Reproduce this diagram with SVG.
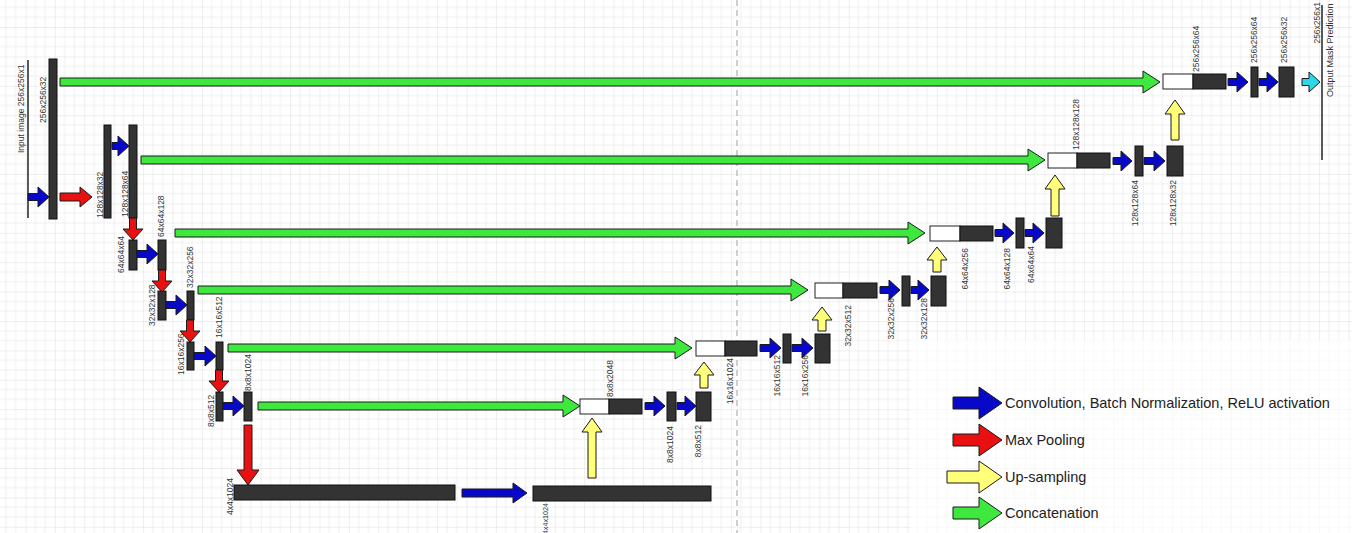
<svg xmlns="http://www.w3.org/2000/svg" width="1352" height="533" viewBox="0 0 1352 533">
<style>
.lb{font-family:"Liberation Sans",Arial,sans-serif;font-size:8.5px;fill:#333}
.lg{font-family:"Liberation Sans",Arial,sans-serif;font-size:14.5px;fill:#222}
.blk{fill:#333;stroke:#111;stroke-width:1}
.wht{fill:#fff;stroke:#222;stroke-width:1}
.ln{stroke:#222;stroke-width:1.5;fill:none}
.ar{stroke:#1a1a1a;stroke-width:1;stroke-linejoin:miter}
.b{fill:#0808c8}
.r{fill:#e81010}
.y{fill:#ffff7a}
.g{fill:#3fe83f}
.c{fill:#2ad8e8}
.e{text-anchor:end}
</style>
<defs>
<pattern id="grid" width="29.4" height="29.4" patternUnits="userSpaceOnUse" x="25.5" y="27">
<path d="M9.8,0V29.4M19.6,0V29.4M0,9.8H29.4M0,19.6H29.4" stroke="#f0f0f0" stroke-width="1"/>
<path d="M0,0V29.4M0,0H29.4" stroke="#dedede" stroke-width="1"/>
</pattern>
</defs>
<rect width="1352" height="533" fill="#fff"/>
<rect width="1352" height="533" fill="url(#grid)"/>
<rect x="910" y="340" width="442" height="193" fill="#fff" opacity="0.6"/>
<line x1="737" y1="0" x2="737" y2="533" stroke="#b0b0b0" stroke-width="1.2" stroke-dasharray="6,4"/>

<g id="input">
<line class="ln" x1="28" y1="60" x2="28" y2="218"/>
<text class="lb" transform="translate(24,153) rotate(-90)">Input image 256x256x1</text>
</g>
<g id="enc1a"><rect class="blk" x="49" y="59" width="8" height="160"/><text class="lb" transform="translate(46,123) rotate(-90)">256x256x32</text></g>
<g id="enc2a"><rect class="blk" x="104" y="125" width="7" height="93"/><text class="lb" transform="translate(103,218) rotate(-90)">128x128x32</text></g>
<g id="enc2b"><rect class="blk" x="129" y="125" width="8" height="93"/><text class="lb" transform="translate(128,217) rotate(-90)">128x128x64</text></g>
<g id="enc3a"><rect class="blk" x="129" y="240" width="8" height="30"/><text class="lb" transform="translate(124,273) rotate(-90)">64x64x64</text></g>
<g id="enc3b"><rect class="blk" x="158" y="240" width="8" height="30"/><text class="lb" transform="translate(164,237) rotate(-90)">64x64x128</text></g>
<g id="enc4a"><rect class="blk" x="158" y="291" width="8" height="29"/><text class="lb" transform="translate(155,326) rotate(-90)">32x32x128</text></g>
<g id="enc4b"><rect class="blk" x="187" y="291" width="7" height="29"/><text class="lb" transform="translate(193,288) rotate(-90)">32x32x256</text></g>
<g id="enc5a"><rect class="blk" x="187" y="342" width="7" height="28"/><text class="lb" transform="translate(184,375) rotate(-90)">16x16x256</text></g>
<g id="enc5b"><rect class="blk" x="216" y="342" width="7" height="28"/><text class="lb" transform="translate(222,338) rotate(-90)">16x16x512</text></g>
<g id="enc6a"><rect class="blk" x="216" y="392" width="7" height="29"/><text class="lb" transform="translate(214,427) rotate(-90)">8x8x512</text></g>
<g id="enc6b"><rect class="blk" x="244" y="392" width="8" height="29"/><text class="lb" transform="translate(251,391) rotate(-90)">8x8x1024</text></g>
<g id="bott1"><rect class="blk" x="234" y="485" width="221" height="15"/><text class="lb" transform="translate(233,515) rotate(-90)">4x4x1024</text></g>
<g id="bott2"><rect class="blk" x="533" y="486" width="178" height="15"/><text class="lb e" style="font-size:7.2px" transform="translate(548,503) rotate(-90)">4x4x1024</text></g>

<g id="cat6"><rect class="wht" x="580" y="399" width="29" height="15"/><rect class="blk" x="609" y="399" width="33" height="15"/><text class="lb" transform="translate(613,397) rotate(-90)">8x8x2048</text></g>
<g id="dec6a"><rect class="blk" x="667" y="392" width="9" height="29"/><text class="lb e" transform="translate(673,426) rotate(-90)">8x8x1024</text></g>
<g id="dec6b"><rect class="blk" x="696" y="392" width="15" height="29"/><text class="lb e" transform="translate(701,425) rotate(-90)">8x8x512</text></g>
<g id="cat5"><rect class="wht" x="696" y="341" width="29" height="15"/><rect class="blk" x="725" y="341" width="32" height="15"/><text class="lb e" transform="translate(733,358) rotate(-90)">16x16x1024</text></g>
<g id="dec5a"><rect class="blk" x="783" y="334" width="8" height="29"/><text class="lb e" transform="translate(780,355) rotate(-90)">16x16x512</text></g>
<g id="dec5b"><rect class="blk" x="815" y="334" width="15" height="29"/><text class="lb e" transform="translate(808,355) rotate(-90)">16x16x256</text></g>
<g id="cat4"><rect class="wht" x="815" y="283" width="28" height="15"/><rect class="blk" x="843" y="283" width="34" height="15"/><text class="lb e" transform="translate(851,305) rotate(-90)">32x32x512</text></g>
<g id="dec4a"><rect class="blk" x="902" y="276" width="8" height="30"/><text class="lb e" transform="translate(894,298) rotate(-90)">32x32x256</text></g>
<g id="dec4b"><rect class="blk" x="931" y="276" width="15" height="30"/><text class="lb e" transform="translate(927,298) rotate(-90)">32x32x128</text></g>
<g id="cat3"><rect class="wht" x="930" y="226" width="30" height="15"/><rect class="blk" x="960" y="226" width="33" height="15"/><text class="lb e" transform="translate(968,248) rotate(-90)">64x64x256</text></g>
<g id="dec3a"><rect class="blk" x="1016" y="218" width="8" height="30"/><text class="lb e" transform="translate(1010,248) rotate(-90)">64x64x128</text></g>
<g id="dec3b"><rect class="blk" x="1046" y="218" width="16" height="30"/><text class="lb e" transform="translate(1034,246) rotate(-90)">64x64x64</text></g>
<g id="cat2"><rect class="wht" x="1048" y="153" width="29" height="15"/><rect class="blk" x="1077" y="153" width="33" height="15"/><text class="lb" transform="translate(1079,150) rotate(-90)">128x128x128</text></g>
<g id="dec2a"><rect class="blk" x="1135" y="146" width="8" height="30"/><text class="lb e" transform="translate(1138,180) rotate(-90)">128x128x64</text></g>
<g id="dec2b"><rect class="blk" x="1167" y="146" width="16" height="30"/><text class="lb e" transform="translate(1176,180) rotate(-90)">128x128x32</text></g>
<g id="cat1"><rect class="wht" x="1163" y="74" width="30" height="15"/><rect class="blk" x="1193" y="74" width="33" height="15"/><text class="lb" transform="translate(1199,72) rotate(-90)">256x256x64</text></g>
<g id="dec1a"><rect class="blk" x="1251" y="67" width="7" height="30"/><text class="lb" transform="translate(1257,63) rotate(-90)">256x256x64</text></g>
<g id="dec1b"><rect class="blk" x="1279" y="67" width="15" height="30"/><text class="lb" transform="translate(1287,63) rotate(-90)">256x256x32</text></g>
<g id="output">
<line class="ln" x1="1322" y1="5" x2="1322" y2="160"/>
<text class="lb e" transform="translate(1320,2) rotate(-90)">256x256x1</text>
<text class="lb" style="font-size:9px" transform="translate(1333,97) rotate(-90)">Output Mask Prediction</text>
</g>

<g id="connectors">
<path class="ar g" d="M60,78H1143V71L1160,82L1143,93V86H60Z"/>
<path class="ar g" d="M141,156H1028V149L1045,160L1028,171V164H141Z"/>
<path class="ar g" d="M175,229H908V222L925,233L908,244V237H175Z"/>
<path class="ar g" d="M198,286H791V279L808,290L791,301V294H198Z"/>
<path class="ar g" d="M228,344H675V337L692,348L675,359V352H228Z"/>
<path class="ar g" d="M258,402H563V395L580,406L563,417V410H258Z"/>

<path class="ar b" d="M28,193.5H38V187L49,197L38,207V200.5H28Z"/>
<path class="ar b" d="M112,142.5H118V136L129,146L118,156V149.5H112Z"/>
<path class="ar b" d="M137,250.5H147V244L158,254L147,264V257.5H137Z"/>
<path class="ar b" d="M166,301.5H176V295L187,305L176,315V308.5H166Z"/>
<path class="ar b" d="M194,352.5H205V346L216,356L205,366V359.5H194Z"/>
<path class="ar b" d="M223,402.5H233V396L244,406L233,416V409.5H223Z"/>
<path class="ar b" d="M645,402.5H654V396L665,406L654,416V409.5H645Z"/>
<path class="ar b" d="M677,402.5H685V396L696,406L685,416V409.5H677Z"/>
<path class="ar b" d="M760,344.5H770V338L781,348L770,358V351.5H760Z"/>
<path class="ar b" d="M792,344.5H802V338L813,348L802,358V351.5H792Z"/>
<path class="ar b" d="M880,286.5H889V280L900,290L889,300V293.5H880Z"/>
<path class="ar b" d="M911,286.5H918V280L929,290L918,300V293.5H911Z"/>
<path class="ar b" d="M995,229.5H1003V223L1014,233L1003,243V236.5H995Z"/>
<path class="ar b" d="M1025,229.5H1033V223L1044,233L1033,243V236.5H1025Z"/>
<path class="ar b" d="M1113,157.5H1121V151L1132,161L1121,171V164.5H1113Z"/>
<path class="ar b" d="M1144,157.5H1154V151L1165,161L1154,171V164.5H1144Z"/>
<path class="ar b" d="M1228,78.5H1237V72L1248,82L1237,92V85.5H1228Z"/>
<path class="ar b" d="M1259,78.5H1267V72L1278,82L1267,92V85.5H1259Z"/>
<path class="ar c" d="M1302,78.5H1309V72L1320,82L1309,92V85.5H1302Z"/>
<path class="ar b" d="M462,489H513V483L527,493L513,503V497H462Z"/>

<path class="ar r" d="M60,193H80V187L92,197L80,207V201H60Z"/>
<path class="ar r" d="M129.5,218V229H123L133,240L143,229H136.5V218Z"/>
<path class="ar r" d="M158.5,270V281H152L162,292L172,281H165.5V270Z"/>
<path class="ar r" d="M186.5,320V331H180L190,342L200,331H193.5V320Z"/>
<path class="ar r" d="M215.5,370V381H209L219,392L229,381H222.5V370Z"/>
<path class="ar r" d="M244,425V470H237L248,485L259,470H252V425Z"/>

<path class="ar y" d="M588,478V432H582L592,418L602,432H596V478Z"/>
<path class="ar y" d="M700,388V375H694L704,362L714,375H708V388Z"/>
<path class="ar y" d="M818,331V320H812L822,307L832,320H826V331Z"/>
<path class="ar y" d="M933,272V260H927L937,247L947,260H941V272Z"/>
<path class="ar y" d="M1051,216V189H1045L1055,175L1065,189H1059V216Z"/>
<path class="ar y" d="M1171,140V114H1165L1175,100L1185,114H1179V140Z"/>
</g>

<g id="legend">
<path class="ar b" d="M953,397H979V387L1002,403L979,419V409H953Z"/>
<text class="lg" x="1005" y="408">Convolution, Batch Normalization, ReLU activation</text>
<path class="ar r" d="M953,434H979V424L1002,440L979,456V446H953Z"/>
<text class="lg" x="1005" y="445">Max Pooling</text>
<path class="ar y" d="M947,471H979V461L1002,477L979,493V483H947Z"/>
<text class="lg" x="1005" y="482">Up-sampling</text>
<path class="ar g" d="M953,507H979V497L1002,513L979,529V519H953Z"/>
<text class="lg" x="1005" y="518">Concatenation</text>
</g>
</svg>
